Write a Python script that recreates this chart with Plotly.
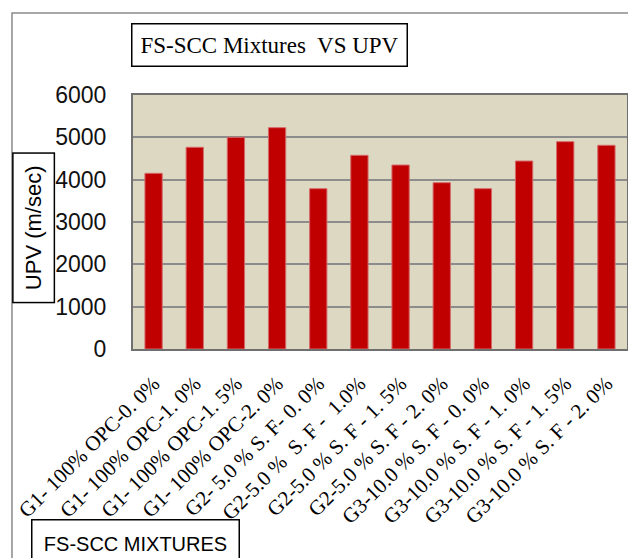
import plotly.graph_objects as go

categories = [
    "G1- 100% OPC-0. 0%",
    "G1- 100% OPC-1. 0%",
    "G1- 100% OPC-1. 5%",
    "G1- 100% OPC-2. 0%",
    "G2- 5.0 % S. F- 0. 0%",
    "G2-5.0 %  S. F -  1.0%",
    "G2-5.0 % S. F - 1. 5%",
    "G2-5.0 % S. F - 2. 0%",
    "G3-10.0 % S. F - 0. 0%",
    "G3-10.0 % S. F - 1. 0%",
    "G3-10.0 % S. F - 1. 5%",
    "G3-10.0 % S. F - 2. 0%",
]
upv = [4150, 4765, 5000, 5228, 3787, 4575, 4346, 3929, 3787, 4441, 4898, 4812]
y_ticks = [0, 1000, 2000, 3000, 4000, 5000, 6000]

fig = go.Figure(go.Bar(
    x=categories, y=upv,
    marker=dict(color="#C00000", line=dict(color="#D66A6A", width=1)),
    width=0.42,
))

fig.update_layout(
    width=628, height=558,
    margin=dict(l=133, r=1, t=95, b=209, autoexpand=False),
    paper_bgcolor="white",
    plot_bgcolor="#DDD8C2",
    showlegend=False,
    xaxis=dict(
        automargin=False,
        tickangle=-45,
        tickfont=dict(family="Liberation Serif", size=21, color="black"),
        showline=True, linecolor="#707070", linewidth=2, mirror=True,
        ticks="", ticklabelstandoff=12,
    ),
    yaxis=dict(
        automargin=False,
        range=[0, 6000], tickvals=y_ticks,
        tickfont=dict(family="Liberation Sans", size=23, color="#111111"),
        showgrid=True, gridcolor="#8C8C8C", gridwidth=2,
        showline=True, linecolor="#707070", linewidth=2, mirror=True,
        ticks="", ticklabelstandoff=20, zeroline=False,
    ),
    shapes=[
        dict(type="rect", xref="paper", yref="paper",
             x0=-0.245, x1=1.2, y0=-1.5, y1=1.323,
             line=dict(color="#8a8a8a", width=1.5), layer="below"),
    ],
    annotations=[
        dict(text="FS-SCC Mixtures  VS UPV", xref="paper", yref="paper",
             x=0.276, y=1.195, xanchor="center", yanchor="middle",
             showarrow=False,
             font=dict(family="Liberation Serif", size=23, color="black"),
             bordercolor="black", borderwidth=1.5, borderpad=6,
             bgcolor="white", width=262, height=29),
        dict(text="UPV (m/sec)", xref="paper", yref="paper",
             x=-0.202, y=0.476, xanchor="center", yanchor="middle",
             showarrow=False, textangle=-90,
             font=dict(family="Liberation Sans", size=22, color="black"),
             bordercolor="black", borderwidth=1.5, borderpad=6,
             bgcolor="white", width=136, height=28),
        dict(text="FS-SCC MIXTURES", xref="paper", yref="paper",
             x=0.006, y=-0.764, xanchor="center", yanchor="middle",
             showarrow=False,
             font=dict(family="Liberation Sans", size=20, color="black"),
             bordercolor="black", borderwidth=1.5, borderpad=6,
             bgcolor="white", width=194, height=34),
    ],
)

fig.write_html(
    "out.html",
    config={"displayModeBar": False},
    post_script="document.body.style.margin='0';document.body.style.overflow='hidden';",
)
